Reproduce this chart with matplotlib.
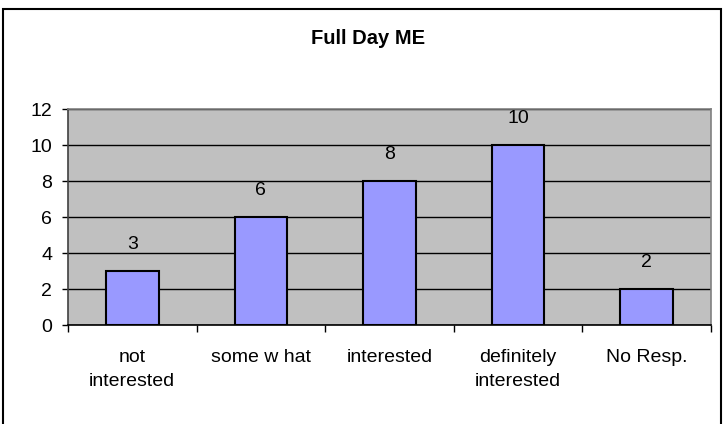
import matplotlib.pyplot as plt
import matplotlib.patches as patches
import numpy as np

# Full Day ME survey responses
categories = ['not\ninterested', 'some w hat', 'interested', 'definitely\ninterested', 'No Resp.']
counts = [3, 6, 8, 10, 2]
y_ticks = [0, 2, 4, 6, 8, 10, 12]

plt.rcParams['font.family'] = ['Liberation Sans', 'DejaVu Sans']

fig = plt.figure(figsize=(7.24, 4.24), dpi=100)
ax = fig.add_axes([68/724, 1-325/424, (711-68)/724, (325-109)/424])

x = np.arange(len(categories))
ax.set_facecolor('#C0C0C0')
ax.bar(x, counts, width=0.41, color='#9999FF', edgecolor='black', linewidth=1.5, zorder=3)

for xi, v in zip(x, counts):
    ax.annotate(str(v), (xi, v), xytext=(0, 19), textcoords='offset points',
                ha='center', va='center', fontsize=14, zorder=4)

ax.set_xlim(-0.5, len(categories) - 0.5)
ax.set_ylim(0, 12)
ax.set_yticks(y_ticks)
ax.yaxis.grid(True, color='black', linewidth=1, zorder=1)
ax.tick_params(axis='y', length=4.5, width=1, pad=7, labelsize=14, direction='out')

# category labels at centres, tick marks at boundaries
ax.set_xticks(x)
ax.set_xticklabels(categories, fontsize=14, linespacing=1.55)
ax.tick_params(axis='x', which='major', length=0, pad=17.5)
ax.set_xticks(np.arange(len(categories) + 1) - 0.5, minor=True)
ax.tick_params(axis='x', which='minor', length=5, width=1, direction='out')

ax.spines['top'].set_color('#808080')
ax.spines['right'].set_color('#808080')
ax.spines['left'].set_color('#404040')
ax.spines['bottom'].set_color('black')
for s in ax.spines.values():
    s.set_linewidth(1.2)

fig.text(368/724, 1-38/424, 'Full Day ME', ha='center', va='center',
         fontsize=14.5, fontweight='bold')

frame = patches.Rectangle((3/724, -0.02), (721-3)/724, (424-9)/424 + 0.02,
                          transform=fig.transFigure, fill=False,
                          edgecolor='black', linewidth=1.5)
fig.patches.append(frame)

fig.savefig('out.png', dpi=100)
